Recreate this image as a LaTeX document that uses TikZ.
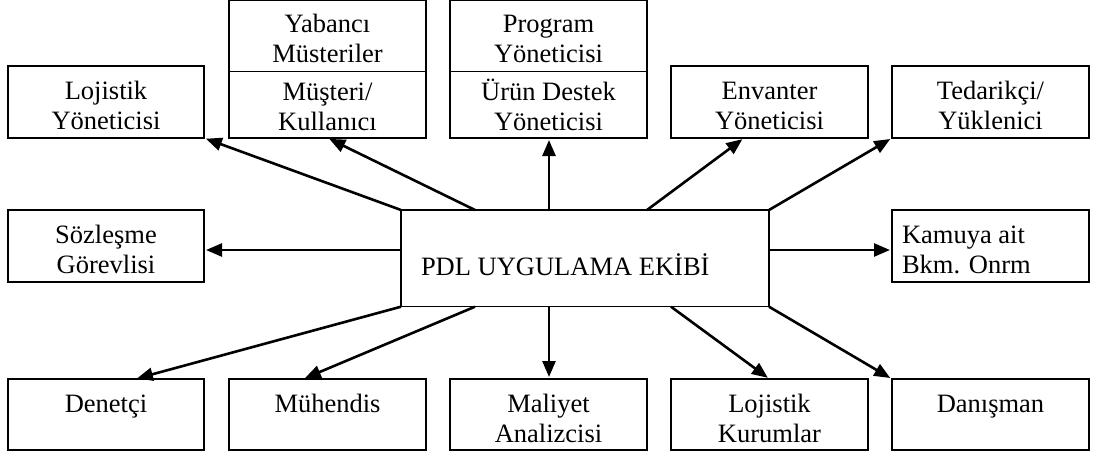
\documentclass[tikz,border=0pt]{standalone}
\usepackage{fontspec}
\setmainfont{Liberation Serif}
\usetikzlibrary{arrows.meta,calc}
\begin{document}
\begin{tikzpicture}[x=1pt,y=-1pt,
  box/.style={draw,line width=1.4pt,inner sep=0pt,outer sep=0pt,rectangle},
  txt/.style={inner sep=0pt,outer sep=0pt,align=center,anchor=north,font=\fontsize{26.5}{30}\selectfont},
  txtone/.style={inner sep=0pt,outer sep=0pt,anchor=base,font=\fontsize{26.5}{30}\selectfont},
  conn/.style={line width=2.6pt,-{Triangle[length=16pt,width=13pt]},shorten >=2pt}]
\useasboundingbox (0,0) rectangle (1096,456);
% top row
\node[box,minimum width=196pt,minimum height=72pt] (lojy) at (106,102) {};
\node[box,minimum width=197pt,minimum height=71pt] (yab) at (327.5,36.2) {};
\node[box,minimum width=197pt,minimum height=66.3pt] (mus) at (327.5,104.85) {};
\node[box,minimum width=197pt,minimum height=71pt] (prog) at (548.5,36.2) {};
\node[box,minimum width=197pt,minimum height=66.3pt] (urun) at (548.5,104.85) {};
\node[box,minimum width=197pt,minimum height=72pt] (env) at (769.5,102) {};
\node[box,minimum width=197pt,minimum height=72pt] (ted) at (990.5,102) {};
% middle row
\node[box,minimum width=196pt,minimum height=72pt] (soz) at (106,246) {};
\node[box,minimum width=368pt,minimum height=96.7pt] (pdl) at (585,258.35) {};
\node[box,minimum width=197pt,minimum height=72pt] (kam) at (990.5,246) {};
% bottom row
\node[box,minimum width=196pt,minimum height=71pt] (den) at (106,414.5) {};
\node[box,minimum width=197pt,minimum height=71pt] (muh) at (327.5,414.5) {};
\node[box,minimum width=197pt,minimum height=71pt] (mal) at (548.5,414.5) {};
\node[box,minimum width=197pt,minimum height=71pt] (lojk) at (769.5,414.5) {};
\node[box,minimum width=197pt,minimum height=71pt] (dan) at (990.5,414.5) {};
% texts
\node[txt] (tlojy) at (106,75) {\rule{0pt}{24pt}Lojistik\\Yöneticisi};
\node[txt] (tyab) at (327.5,8) {\rule{0pt}{24pt}Yabancı\\Müsteriler};
\node[txt] (tmus) at (327.5,76) {\rule{0pt}{24pt}Müşteri/\\Kullanıcı};
\node[txt] (tprog) at (548.5,8) {\rule{0pt}{24pt}Program\\Yöneticisi};
\node[txt] (turun) at (548.5,76) {\rule{0pt}{24pt}Ürün Destek\\Yöneticisi};
\node[txt] (tenv) at (769.5,75) {\rule{0pt}{24pt}Envanter\\Yöneticisi};
\node[txt] (tted) at (990.5,75) {\rule{0pt}{24pt}Tedarikçi/\\Yüklenici};
\node[txt] (tsoz) at (106,219) {\rule{0pt}{24pt}Sözleşme\\Görevlisi};
\node[txtone,anchor=base west] (tpdl) at (421,275) {PDL UYGULAMA EKİBİ};
\node[txt,align=left,anchor=north west] (tkam) at (902,219) {\rule{0pt}{24pt}Kamuya ait\\Bkm. Onrm};
\node[txtone] (tden) at (106,412) {Denetçi};
\node[txtone] (tmuh) at (327.5,412) {Mühendis};
\node[txt] (tmal) at (548.5,388) {\rule{0pt}{24pt}Maliyet\\Analizcisi};
\node[txt] (tlojk) at (769.5,388) {\rule{0pt}{24pt}Lojistik\\Kurumlar};
\node[txtone] (tdan) at (990.5,412) {Danışman};
% connector points
\coordinate (pn1) at ($(pdl.north west)+(74,0)$);
\coordinate (pn2) at ($(pdl.north west)+(148,0)$);
\coordinate (pn3) at ($(pdl.north west)+(246,0)$);
\coordinate (ps1) at ($(pdl.south west)+(74,0)$);
\coordinate (ps2) at ($(pdl.south west)+(148,0)$);
\coordinate (ps3) at ($(pdl.south west)+(270,0)$);
\coordinate (pw) at (401,250);
\coordinate (pe) at (769,250);
\coordinate (envt) at ($(env.south west)+(73,0)$);
\coordinate (dent) at ($(den.north west)+(127,0)$);
\coordinate (muht) at ($(muh.north west)+(74,0)$);
% connectors
\draw[conn] (pdl.north west) -- (lojy.south east);
\draw[conn] (pn1) -- (urun.south -| mus.south);
\draw[conn] (pn2) -- (pn2 |- urun.south);
\draw[conn] (pn3) -- (envt);
\draw[conn] (pdl.north east) -- (ted.south west);
\draw[conn] (pw) -- (pw -| soz.east);
\draw[conn] (pe) -- (pe -| kam.west);
\draw[conn] (pdl.south west) -- (dent);
\draw[conn] (ps1) -- (muht);
\draw[conn] (ps2) -- (ps2 |- mal.north);
\draw[conn] (ps3) -- (lojk.north);
\draw[conn] (pdl.south east) -- (dan.north west);
\end{tikzpicture}
\end{document}
